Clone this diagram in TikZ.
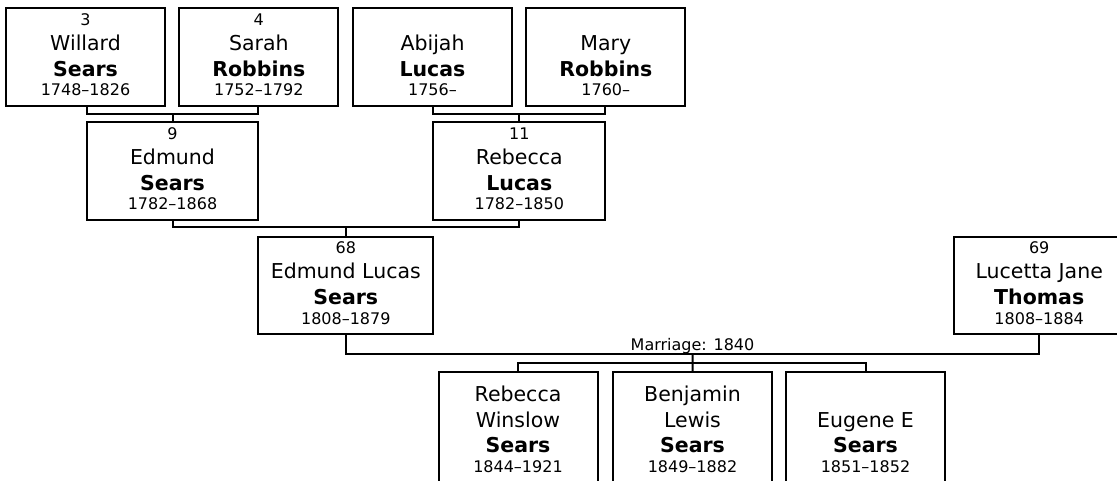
\documentclass[tikz,border=0pt]{standalone}
\usepackage{fontspec}
\setmainfont{DejaVu Sans}
\usetikzlibrary{calc}
\tikzset{
  pbox/.style={draw, line width=2pt, rectangle, anchor=north west, inner sep=0pt, outer sep=0pt, minimum height=97.5pt},
  cbox/.style={draw, line width=2pt, rectangle, anchor=north west, inner sep=0pt, outer sep=0pt, minimum width=159pt, minimum height=130pt},
  small/.style={font=\fontsize{16}{19}\selectfont, anchor=base, inner sep=0pt},
  big/.style={font=\fontsize{20.5}{24}\selectfont, anchor=base, inner sep=0pt},
  bigb/.style={font=\fontsize{20.5}{24}\selectfont\bfseries, anchor=base, inner sep=0pt},
  link/.style={draw, line width=2pt}
}
\begin{document}
\begin{tikzpicture}[x=1pt,y=-1pt]
\clip (0,0) rectangle (1117,481);
% ---- generation 1
\node[pbox, minimum width=159pt] (p3) at (6,8.3) {};
\node[small] (p3n) at ($(p3.north)+(0,17)$) {3};
\node[big]  (p3g) at ($(p3.north)+(0,42.2)$) {Willard};
\node[bigb] (p3s) at ($(p3.north)+(0,67.9)$) {Sears};
\node[small] (p3d) at ($(p3.north)+(0,87.4)$) {1748–1826};

\node[pbox, minimum width=159pt] (p4) at (179.3,8.3) {};
\node[small] (p4n) at ($(p4.north)+(0,17)$) {4};
\node[big]  (p4g) at ($(p4.north)+(0,42.2)$) {Sarah};
\node[bigb] (p4s) at ($(p4.north)+(0,67.9)$) {Robbins};
\node[small] (p4d) at ($(p4.north)+(0,87.4)$) {1752–1792};

\node[pbox, minimum width=159pt] (pa) at (353,8.3) {};
\node[big]  (pag) at ($(pa.north)+(0,42.2)$) {Abijah};
\node[bigb] (pas) at ($(pa.north)+(0,67.9)$) {Lucas};
\node[small] (pad) at ($(pa.north)+(0,87.4)$) {1756–};

\node[pbox, minimum width=159pt] (pm) at (526.3,8.3) {};
\node[big]  (pmg) at ($(pm.north)+(0,42.2)$) {Mary};
\node[bigb] (pms) at ($(pm.north)+(0,67.9)$) {Robbins};
\node[small] (pmd) at ($(pm.north)+(0,87.4)$) {1760–};

% ---- generation 2
\node[pbox, minimum width=171pt] (p9) at (87,122.3) {};
\node[small] (p9n) at ($(p9.north)+(0,17)$) {9};
\node[big]  (p9g) at ($(p9.north)+(0,42.2)$) {Edmund};
\node[bigb] (p9s) at ($(p9.north)+(0,67.9)$) {Sears};
\node[small] (p9d) at ($(p9.north)+(0,87.4)$) {1782–1868};

\node[pbox, minimum width=172pt] (p11) at (433.3,122.3) {};
\node[small] (p11n) at ($(p11.north)+(0,17)$) {11};
\node[big]  (p11g) at ($(p11.north)+(0,42.2)$) {Rebecca};
\node[bigb] (p11s) at ($(p11.north)+(0,67.9)$) {Lucas};
\node[small] (p11d) at ($(p11.north)+(0,87.4)$) {1782–1850};

% ---- generation 3
\node[pbox, minimum width=175pt] (p68) at (258.3,236.7) {};
\node[small] (p68n) at ($(p68.north)+(0,17)$) {68};
\node[big]  (p68g) at ($(p68.north)+(0,42.2)$) {Edmund Lucas};
\node[bigb] (p68s) at ($(p68.north)+(0,67.9)$) {Sears};
\node[small] (p68d) at ($(p68.north)+(0,87.4)$) {1808–1879};

\node[pbox, minimum width=171pt] (p69) at (953.7,236.7) {};
\node[small] (p69n) at ($(p69.north)+(0,17)$) {69};
\node[big]  (p69g) at ($(p69.north)+(0,42.2)$) {Lucetta Jane};
\node[bigb] (p69s) at ($(p69.north)+(0,67.9)$) {Thomas};
\node[small] (p69d) at ($(p69.north)+(0,87.4)$) {1808–1884};

% ---- children
\node[cbox] (c1) at (438.5,371.7) {};
\node[big]  (c1g) at ($(c1.north)+(0,30.2)$) {Rebecca};
\node[big]  (c1h) at ($(c1.north)+(0,55.7)$) {Winslow};
\node[bigb] (c1s) at ($(c1.north)+(0,81.2)$) {Sears};
\node[small] (c1d) at ($(c1.north)+(0,100.7)$) {1844–1921};

\node[cbox] (c2) at (613,371.7) {};
\node[big]  (c2g) at ($(c2.north)+(0,30.2)$) {Benjamin};
\node[big]  (c2h) at ($(c2.north)+(0,55.7)$) {Lewis};
\node[bigb] (c2s) at ($(c2.north)+(0,81.2)$) {Sears};
\node[small] (c2d) at ($(c2.north)+(0,100.7)$) {1849–1882};

\node[cbox] (c3) at (786,371.7) {};
\node[big]  (c3g) at ($(c3.north)+(0,55.7)$) {Eugene E};
\node[bigb] (c3s) at ($(c3.north)+(0,81.2)$) {Sears};
\node[small] (c3d) at ($(c3.north)+(0,100.7)$) {1851–1852};

% ---- connectors
\draw[link] (p9.north west |- p3.south) -- ++(0,8.3) -| (p9.north east |- p4.south);
\draw[link] (p9.north) -- ++(0,-9);
\draw[link] (p11.north west |- pa.south) -- ++(0,8.3) -| (p11.north east |- pm.south);
\draw[link] (p11.north) -- ++(0,-9);
\draw[link] (p9.south) -- ++(0,7.3) -| (p11.south);
\draw[link] (p68.north) -- ++(0,-9.4);
\draw[link] (p68.south) -- ++(0,20) coordinate (ml) -| (p69.south);
\coordinate (m) at ($(ml)!0.5!(ml -| p69.south)$);
\node[small] (mlab) at ($(m)+(0,-4)$) {Marriage: 1840};
\draw[link] (m) -- (c2.north);
\draw[link] (c1.north) -- ++(0,-8.4) -| (c3.north);
\end{tikzpicture}
\end{document}
